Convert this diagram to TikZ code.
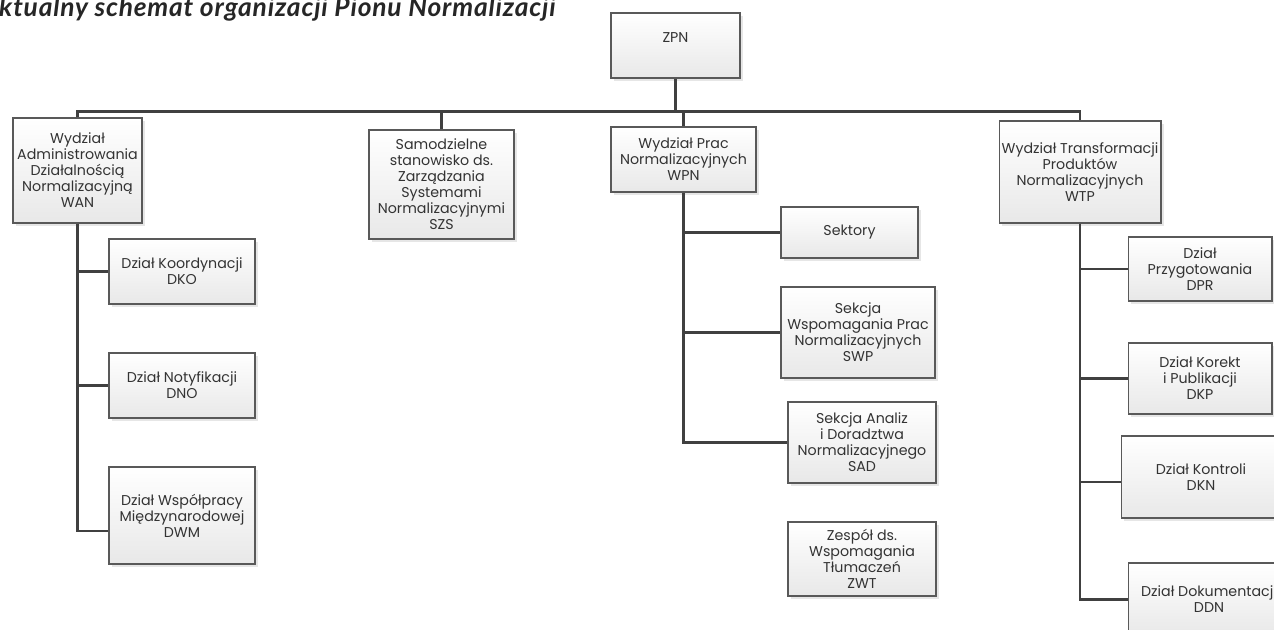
\documentclass[tikz,border=0pt]{standalone}
\usepackage{fontspec}
\newfontfamily\boxfont{Poppins}
\newfontfamily\titlefont[LetterSpace=3]{Lato}
\usetikzlibrary{positioning,calc,shadows}

\begin{document}
\begin{tikzpicture}[x=0.02cm, y=-0.02cm,
        box/.style = {
            draw=black!65,
            line width=0.6pt,
            top color=white,
            bottom color=black!9,
            drop shadow={opacity=0.2, shadow xshift=1.5pt, shadow yshift=-1.5pt},
            align=center,
            text=black!80,
            inner sep=1pt,
            font=\boxfont\fontsize{8.1}{9.1}\selectfont
        },
        conn/.style = {draw=black!75, line width=1.6pt}]

        \path[use as bounding box] (0,0) rectangle (1274,629);
        \clip (0,0) rectangle (1274,629);

        \node[anchor=base west, inner sep=0pt, text=black!85,
            font=\titlefont\bfseries\itshape\fontsize{15}{18}\selectfont] (title) at (-19,16)
            {Aktualny schemat organizacji Pionu Normalizacji};

        \node[box, minimum width=2.58cm, minimum height=1.30cm] (zpn) at (675.5,45.5) {ZPN\\~};
        \node[box, minimum width=2.58cm, minimum height=2.10cm] (wan) at (77.5,170.5) {Wydział\\Administrowania\\Działalnością\\Normalizacyjną\\WAN};
        \node[box, minimum width=2.90cm, minimum height=2.18cm] (szs) at (441.5,184.5) {Samodzielne\\stanowisko ds.\\Zarządzania\\Systemami\\Normalizacyjnymi\\SZS};
        \node[box, minimum width=2.90cm, minimum height=1.30cm] (wpn) at (683.5,159.5) {Wydział Prac\\Normalizacyjnych\\WPN};
        \node[box, minimum width=3.24cm, minimum height=2.04cm] (wtp) at (1080,172) {Wydział Transformacji\\Produktów\\Normalizacyjnych\\WTP};

        \node[box, minimum width=2.92cm, minimum height=1.30cm] (dko) at (182,271.5) {Dział Koordynacji\\DKO};
        \node[box, minimum width=2.92cm, minimum height=1.30cm] (dno) at (182,385.5) {Dział Notyfikacji\\DNO};
        \node[box, minimum width=2.92cm, minimum height=1.94cm] (dwm) at (182,515.5) {Dział Współpracy\\Międzynarodowej\\DWM};

        \node[box, minimum width=2.74cm, minimum height=1.02cm] (sek) at (849.5,232.5) {Sektory};
        \node[box, minimum width=3.08cm, minimum height=1.82cm] (swp) at (858,332.5) {Sekcja\\Wspomagania Prac\\Normalizacyjnych\\SWP};
        \node[box, minimum width=2.96cm, minimum height=1.62cm] (sad) at (862,442.5) {Sekcja Analiz\\i Doradztwa\\Normalizacyjnego\\SAD};
        \node[box, minimum width=2.96cm, minimum height=1.48cm] (zwt) at (862,559) {Zespół ds.\\Wspomagania\\Tłumaczeń\\ZWT};

        \node[box, minimum width=2.88cm, minimum height=1.28cm] (dpr) at (1200,269) {Dział\\Przygotowania\\DPR};
        \node[box, minimum width=2.88cm, minimum height=1.42cm] (dkp) at (1200,378.5) {Dział Korekt\\i Publikacji\\DKP};
        \node[box, minimum width=3.20cm, minimum height=1.64cm] (dkn) at (1201,477) {Dział Kontroli\\DKN};
        \node[box, minimum width=3.24cm, minimum height=1.46cm] (ddn) at (1209,599.5) {Dział Dokumentacji\\DDN};

        \coordinate (bus) at (0,111.5);
        \coordinate (dwmin) at ($(dwm.west)+(0,15.5)$);
        \coordinate (dknin) at ($(dkn.west)+(0,5)$);

        \draw[conn] (zpn.south) -- (zpn.south |- bus);
        \draw[conn] (wan.north) -- (wan.north |- bus) -- (wtp.north |- bus) -- (wtp.north);
        \draw[conn] (szs.north) -- (szs.north |- bus);
        \draw[conn] (wpn.north) -- (wpn.north |- bus);

        \draw[conn] (wan.south) |- (dwmin);
        \draw[conn] (wan.south |- dko.west) -- (dko.west);
        \draw[conn] (wan.south |- dno.west) -- (dno.west);

        \draw[conn] (wpn.south) |- (sad.west);
        \draw[conn] (wpn.south |- sek.west) -- (sek.west);
        \draw[conn] (wpn.south |- swp.west) -- (swp.west);

        \draw[conn] (wtp.south) |- (ddn.west);
        \draw[conn] (wtp.south |- dpr.west) -- (dpr.west);
        \draw[conn] (wtp.south |- dkp.west) -- (dkp.west);
        \draw[conn] (wtp.south |- dknin) -- (dknin);
    \end{tikzpicture}
\end{document}
